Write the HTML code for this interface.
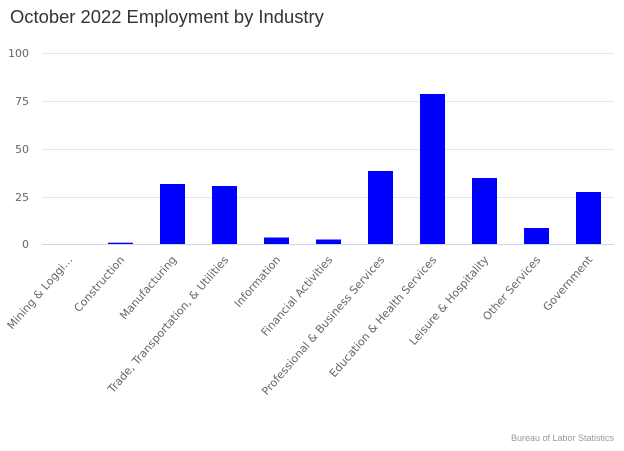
<!DOCTYPE html>
<html><head><style>body{margin:0;background:#fff;}</style></head><body>
<svg width="624" height="446" xmlns="http://www.w3.org/2000/svg" font-family="Liberation Sans, sans-serif">
<text x="10" y="23" font-size="18.4" fill="#333">October 2022 Employment by Industry</text>
<g stroke="#e6e6e6" stroke-width="1">
<line x1="42" x2="614" y1="53.5" y2="53.5"/>
<line x1="42" x2="614" y1="101.5" y2="101.5"/>
<line x1="42" x2="614" y1="149.5" y2="149.5"/>
<line x1="42" x2="614" y1="197.5" y2="197.5"/>
</g>
<line x1="42" x2="614" y1="244.5" y2="244.5" stroke="#ccd6eb"/>
<g font-size="11" fill="#666" text-anchor="end" font-family="DejaVu Sans, sans-serif">
<text x="29" y="57">100</text><text x="29" y="105">75</text><text x="29" y="153">50</text><text x="29" y="201">25</text><text x="29" y="248">0</text>
</g>
<g fill="#0000ff">
<rect x="108" y="242.7" width="25" height="1.3"/>
<rect x="160" y="184" width="25" height="60"/>
<rect x="212" y="186" width="25" height="58"/>
<rect x="264" y="237.5" width="25" height="6.5"/>
<rect x="316" y="239.5" width="25" height="4.5"/>
<rect x="368" y="171" width="25" height="73"/>
<rect x="420" y="94" width="25" height="150"/>
<rect x="472" y="178" width="25" height="66"/>
<rect x="524" y="228" width="25" height="16"/>
<rect x="576" y="192" width="25" height="52"/>
</g>
<g font-size="11" fill="#666" text-anchor="end" font-family="DejaVu Sans, sans-serif">
<text transform="translate(73,260) rotate(-49)">Mining &amp; Loggi…</text>
<text transform="translate(125,260) rotate(-49)">Construction</text>
<text transform="translate(177,260) rotate(-49)">Manufacturing</text>
<text transform="translate(229,260) rotate(-49)">Trade, Transportation, &amp; Utilities</text>
<text transform="translate(281,260) rotate(-49)">Information</text>
<text transform="translate(333,260) rotate(-49)">Financial Activities</text>
<text transform="translate(385,260) rotate(-49)">Professional &amp; Business Services</text>
<text transform="translate(437,260) rotate(-49)">Education &amp; Health Services</text>
<text transform="translate(489,260) rotate(-49)">Leisure &amp; Hospitality</text>
<text transform="translate(541,260) rotate(-49)">Other Services</text>
<text transform="translate(593,260) rotate(-49)">Government</text>
</g>
<text x="614" y="441" font-size="9" fill="#999" text-anchor="end">Bureau of Labor Statistics</text>
</svg>
</body></html>
